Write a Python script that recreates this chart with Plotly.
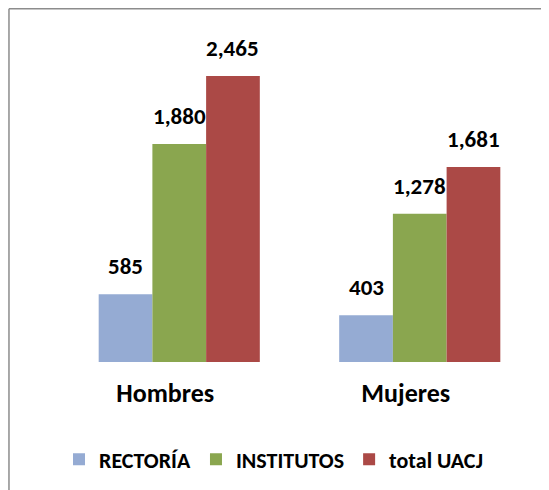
import plotly.graph_objects as go

categories = ["Hombres", "Mujeres"]
series_names = ["RECTORÍA", "INSTITUTOS", "total UACJ"]
rectoria = [585, 403]
institutos = [1880, 1278]
total_uacj = [2465, 1681]
colors = ["#95ABD3", "#8AA64F", "#AB4946"]

FONT = "Carlito, Calibri, Lato, sans-serif"
W, H = 541, 482
ML, MR, MT, MB = 51, 9, 6, 128
BARGAP = 0.33

fig = go.Figure()
series = [rectoria, institutos, total_uacj]
for name, vals, col in zip(series_names, series, colors):
    fig.add_trace(go.Bar(
        x=categories, y=vals, name="<b>" + name + "</b>",
        marker=dict(color=col, line=dict(width=0)),
        cliponaxis=False,
    ))

# data labels placed above each bar (offset within group derived from layout)
plot_w = W - ML - MR
bar_w = plot_w / len(categories) * (1 - BARGAP) / len(series)
for i, vals in enumerate(series):
    for c, v in zip(categories, vals):
        fig.add_annotation(
            x=c, y=v, xref="x", yref="y", text="<b>{:,}</b>".format(v),
            showarrow=False, yanchor="bottom", xanchor="center",
            xshift=(i - (len(series) - 1) / 2) * bar_w, yshift=12,
            font=dict(family=FONT, size=23, color="#000000"),
        )

fig.update_layout(
    width=W, height=H,
    margin=dict(l=ML, r=MR, t=MT, b=MB),
    paper_bgcolor="white", plot_bgcolor="white",
    barmode="group", bargap=BARGAP, bargroupgap=0,
    font=dict(family=FONT, color="#000000"),
    xaxis=dict(showline=False, showgrid=False, zeroline=False,
               tickfont=dict(family=FONT, size=26, color="#000000"),
               ticks="", ticklabelshift=-14, ticklabelstandoff=13,
               tickvals=categories,
               ticktext=["<b>" + c + "</b>" for c in categories]),
    yaxis=dict(range=[0, 3000], visible=False),
    legend=dict(orientation="h", x=0.0, xanchor="left", y=-0.28, yanchor="middle",
                font=dict(family=FONT, size=22, color="#000000"),
                itemwidth=30, traceorder="normal"),
    showlegend=True,
)

# outer chart border
fig.add_shape(type="line", xref="paper", yref="paper", x0=-0.104, x1=1.1, y0=1.015, y1=1.015,
              line=dict(color="#8C8C8C", width=1.5))
fig.add_shape(type="line", xref="paper", yref="paper", x0=-0.104, x1=-0.104, y0=1.015, y1=-0.5,
              line=dict(color="#8C8C8C", width=1.5))

fig.write_html("out.html")
